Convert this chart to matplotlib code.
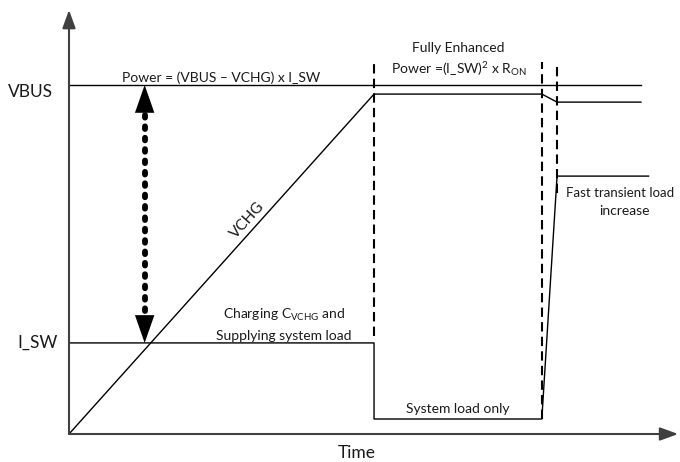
import matplotlib
matplotlib.use("Agg")
import matplotlib.pyplot as plt

plt.rcParams["font.family"] = ["Lato", "DejaVu Sans"]
plt.rcParams["mathtext.fontset"] = "custom"
plt.rcParams["mathtext.rm"] = "Lato"
plt.rcParams["mathtext.it"] = "Lato:italic"

# time marks (arbitrary units) and signal levels (VBUS = 10)
t_on = 10.0        # end of ramp, switch fully enhanced
t_load = 15.5      # start of load step
t_step = 16.0      # end of load step
t_end = 18.75
t_end_isw = 19.0

vbus = 10.0
vchg_full = 9.74
vchg_drop = 9.51
isw_charge = 2.61
isw_sys = 0.43
isw_step = 7.39

vbus_t = [0, t_end]
vbus_v = [vbus, vbus]

vchg_t = [0, t_on, t_load, t_step, t_end]
vchg_v = [0, vchg_full, vchg_full, vchg_drop, vchg_drop]

isw_t = [0, t_on, t_on, t_load, t_step, t_end_isw]
isw_v = [isw_charge, isw_charge, isw_sys, isw_sys, isw_step, isw_step]

dash_t = [t_on, t_load, t_step]
dash_bottom = [2.8, 0.43, 6.9]
dash_top = 10.66

arrow_t = 2.48

fig = plt.figure(figsize=(6.8, 4.62), dpi=100)
ax = fig.add_axes([0, 0, 1, 1])
ax.set_xlim(-2.262, 20.03)
ax.set_ylim(-0.802, 12.436)
ax.axis("off")

axis_col = "#404040"
txt_col = "#1a1a1a"

# axes with arrows
head = "-|>,head_length=11,head_width=4"
ax.annotate("", xy=(0, 12.15), xytext=(0, 0),
            arrowprops=dict(arrowstyle=head, mutation_scale=1,
                            color=axis_col, lw=1.5, shrinkA=0, shrinkB=0))
ax.annotate("", xy=(19.97, 0), xytext=(0, 0),
            arrowprops=dict(arrowstyle=head, mutation_scale=1,
                            color=axis_col, lw=1.5, shrinkA=0, shrinkB=0))

# signals
ax.plot(vbus_t, vbus_v, color="black", lw=1.0)
ax.plot(vchg_t, vchg_v, color="black", lw=1.0)
ax.plot(isw_t, isw_v, color="black", lw=1.0)

# phase boundaries
for t, b in zip(dash_t, dash_bottom):
    ax.plot([t, t], [b, dash_top], color="black", lw=1.5,
            linestyle=(0, (4.5, 2.5)))

# dotted double arrow between VBUS and I_SW
ax.plot([arrow_t, arrow_t], [vbus - 0.85, isw_charge + 0.85], color="black",
        lw=4.2, linestyle=(0, (0.45, 1.5)), dash_capstyle="round")
ax.annotate("", xy=(arrow_t, vbus), xytext=(arrow_t, isw_charge),
            arrowprops=dict(arrowstyle="<|-|>,head_length=20,head_width=7",
                            mutation_scale=1, color="black", lw=0,
                            shrinkA=0, shrinkB=0))

# labels
ax.text(-1.25, 9.8, "VBUS", fontsize=12.5, color=txt_col, ha="center", va="center")
ax.text(-1.03, isw_charge, "I_SW", fontsize=12.5, color=txt_col, ha="center", va="center")
ax.text(9.44, -0.54, "Time", fontsize=12.5, color=txt_col, ha="center", va="center")

fs = 10
ax.text(4.98, 10.2, "Power = (VBUS \u2013 VCHG) x I_SW", fontsize=fs,
        color=txt_col, ha="center", va="center")
ax.text(12.75, 11.06, "Fully Enhanced", fontsize=fs, color=txt_col,
        ha="center", va="center")
ax.text(12.79, 10.45, r"Power =(I_SW)$^{2}$ x R$_{\mathrm{ON}}$", fontsize=fs,
        color=txt_col, ha="center", va="center")
ax.text(5.84, 6.13, "VCHG", fontsize=11, color=txt_col, rotation=48,
        ha="center", va="center", rotation_mode="anchor")
ax.text(7.05, 3.41, r"Charging C$_{\mathrm{VCHG}}$ and", fontsize=fs,
        color=txt_col, ha="center", va="center")
ax.text(7.05, 2.81, "Supplying system load", fontsize=fs, color=txt_col,
        ha="center", va="center")
ax.text(12.75, 0.72, "System load only", fontsize=fs, color=txt_col,
        ha="center", va="center")
ax.text(16.3, 6.9, "Fast transient load", fontsize=9.5, color=txt_col,
        ha="left", va="center")
ax.text(18.2, 6.39, "increase", fontsize=fs, color=txt_col,
        ha="center", va="center")

fig.savefig("out.png", dpi=100)
